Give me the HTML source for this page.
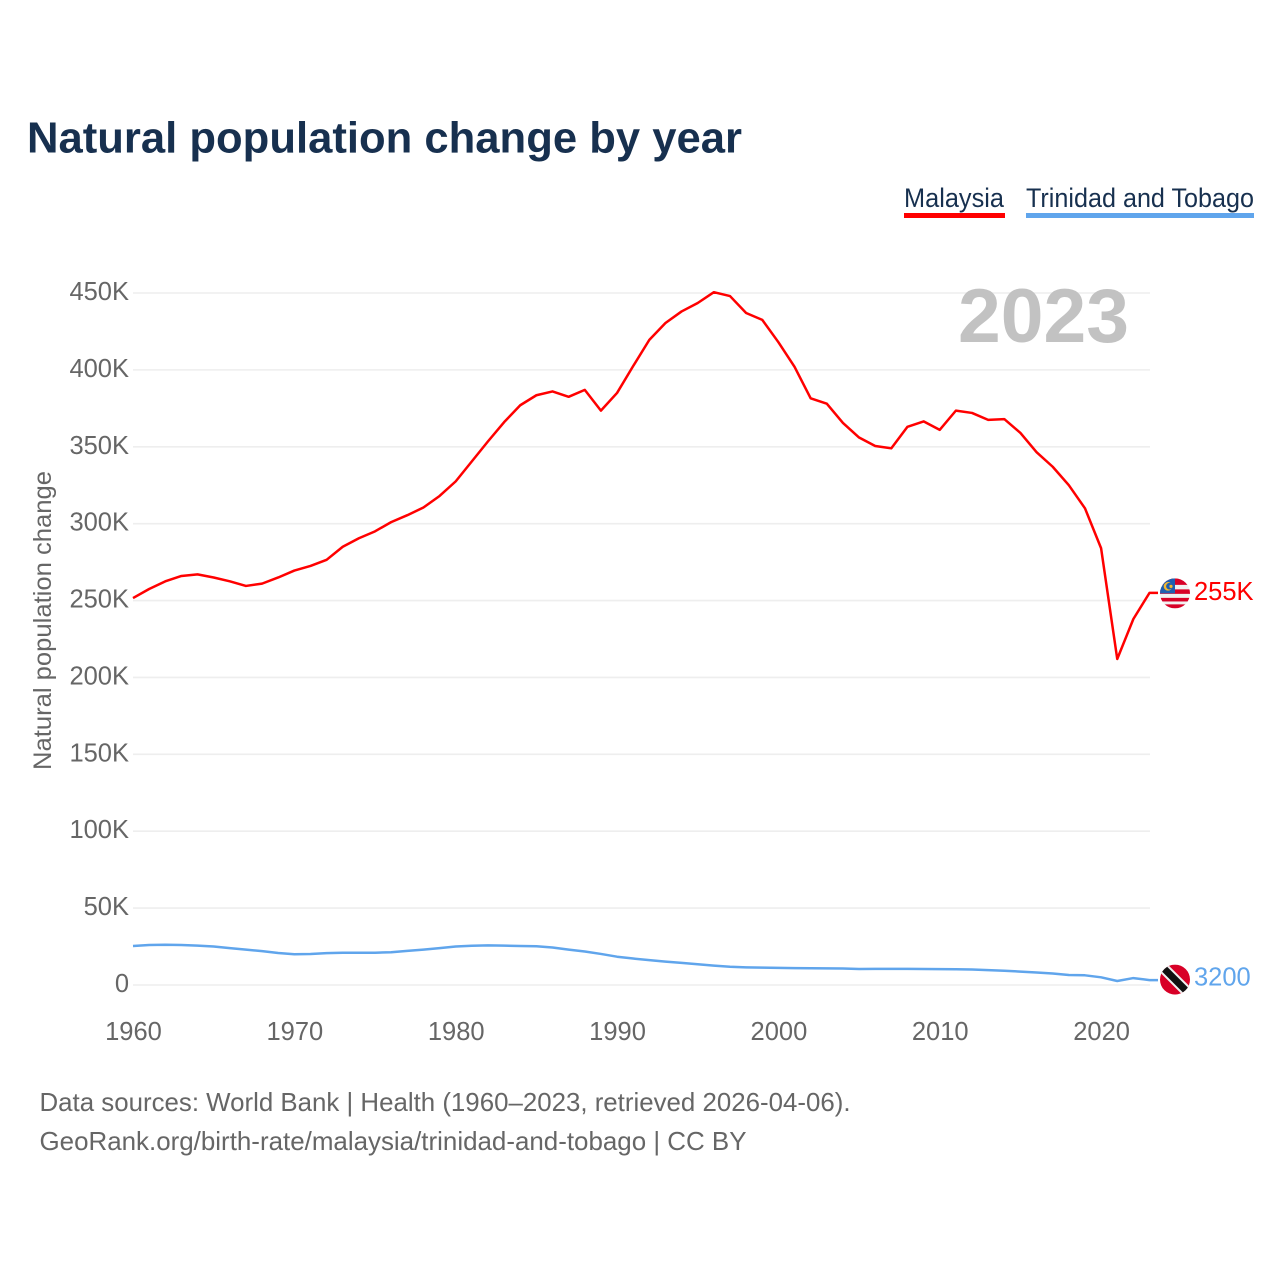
<!DOCTYPE html>
<html lang="en">
<head>
<meta charset="utf-8">
<title>Natural population change by year</title>
<style>
html,body{margin:0;padding:0;background:#fff;}
svg{display:block;font-family:"Liberation Sans",sans-serif;}
</style>
</head>
<body>
<svg id="chart" width="1280" height="1280" viewBox="0 0 1280 1280" xmlns="http://www.w3.org/2000/svg">
  <defs>
    <clipPath id="flag-clip"><circle cx="0" cy="0" r="15"/></clipPath>
  </defs>
  <text x="27" y="152.5" font-size="44" font-weight="700" fill="#17304f" textLength="715" lengthAdjust="spacingAndGlyphs">Natural population change by year</text>

  <g>
    <g>
      <text x="904" y="207" font-size="26.5" fill="#17304f" textLength="100" lengthAdjust="spacingAndGlyphs">Malaysia</text>
      <rect x="904" y="213" width="101" height="5" fill="#ff0000"/>
    </g>
    <g>
      <text x="1026" y="207" font-size="26.5" fill="#17304f" textLength="228" lengthAdjust="spacingAndGlyphs">Trinidad and Tobago</text>
      <rect x="1026" y="213" width="228" height="5" fill="#60a5ec"/>
    </g>
  </g>

  <g id="grid"></g>
  <g id="y-ticks"></g>
  <g id="x-ticks"></g>

  <text x="958" y="342" font-size="76" font-weight="700" fill="#c2c2c2" textLength="171" lengthAdjust="spacingAndGlyphs">2023</text>

  <text transform="translate(51,770) rotate(-90)" x="0" y="0" font-size="25" fill="#666666" textLength="299" lengthAdjust="spacingAndGlyphs">Natural population change</text>

  <g id="series"></g>

  <text x="39.5" y="1111" font-size="26" fill="#666666" textLength="811" lengthAdjust="spacingAndGlyphs">Data sources: World Bank | Health (1960–2023, retrieved 2026-04-06).</text>
  <text x="39.5" y="1150" font-size="26" fill="#666666" textLength="707" lengthAdjust="spacingAndGlyphs">GeoRank.org/birth-rate/malaysia/trinidad-and-tobago | CC BY</text>
</svg>

<script>
const startYear = 1960;
const malaysiaValues = [
  251.6,257.5,262.5,266,267,265,262.5,259.5,261,265,
  269.5,272.5,276.5,285,290.5,295,301,305.5,310.5,318,
  327.5,340.5,353.5,366,377,383.5,386,382.5,387,373.5,
  385,402.5,419.5,430.5,438,443.5,450.5,448,437,432.5,
  418,402,381.5,378,365.5,356,350.5,349,363,366.5,
  361,373.5,372,367.5,368,359,346.5,337,325,310,
  284,212,238,255
];
const trinidadValues = [
  25.4,26,26.2,26,25.6,25,24,23,22,20.8,
  20,20.2,20.7,21,21,21,21.3,22.2,23,24,
  25,25.5,25.8,25.6,25.4,25.2,24.4,23,21.8,20.2,
  18.4,17.2,16.2,15.2,14.4,13.5,12.6,11.9,11.5,11.3,
  11.1,11,10.9,10.8,10.7,10.4,10.5,10.5,10.5,10.4,
  10.3,10.2,10.1,9.7,9.3,8.7,8.1,7.5,6.5,6.3,
  5,2.6,4.5,3.2
];
const yTickValues = [0,50,100,150,200,250,300,350,400,450];
const yTickLabels = ["0","50K","100K","150K","200K","250K","300K","350K","400K","450K"];
const xTickYears = [1960,1970,1980,1990,2000,2010,2020];
const malaysiaLastLabel = "255K";
const trinidadLastLabel = "3200";

const NS = "http://www.w3.org/2000/svg";
function xScale(year){ return 133 + (year - 1960) * 16.135; }
function yScale(v){ return 985 - v * 1.5378; }
function make(tag, attrs, parent){
  const el = document.createElementNS(NS, tag);
  for (const k in attrs) el.setAttribute(k, attrs[k]);
  parent.appendChild(el);
  return el;
}

const gridG = document.getElementById('grid');
const yG = document.getElementById('y-ticks');
yTickValues.forEach(function(v, i){
  const line = make('line', {x1:133, x2:1150, y1:yScale(v), y2:yScale(v), stroke:'#eeeeee', 'stroke-width':1.6}, gridG);
  
  
  const t = make('text', {x:129, y:yScale(v) + 7, 'text-anchor':'end', 'font-size':25.5, fill:'#666666'}, yG);
  
  
  t.textContent = yTickLabels[i];
});

const xG = document.getElementById('x-ticks');
xTickYears.forEach(function(yr){
  const t = make('text', {x:xScale(yr) + 0.5, y:1040, 'text-anchor':'middle', 'font-size':25.5, fill:'#666666'}, xG);
  
  
  t.textContent = String(yr);
});

const seriesG = document.getElementById('series');
function pathFor(values){
  let d = values.map(function(v, i){
    return (i ? 'L' : 'M') + xScale(startYear + i).toFixed(2) + ' ' + yScale(v).toFixed(2);
  }).join(' ');
  const last = yScale(values[values.length - 1]);
  return d + ' L1158 ' + last.toFixed(2);
}

const malaysiaLine = make('path', {d:pathFor(malaysiaValues), fill:'none', stroke:'#ff0000', 'stroke-width':2.5, 'stroke-linejoin':'round'}, seriesG);



const trinidadLine = make('path', {d:pathFor(trinidadValues), fill:'none', stroke:'#60a5ec', 'stroke-width':2.5, 'stroke-linejoin':'round'}, seriesG);



/* Malaysia end flag */
const myY = yScale(malaysiaValues[malaysiaValues.length - 1]);
const myFlag = make('g', {transform:'translate(1175,' + (myY + 0.5) + ')'}, seriesG);


const myClip = make('g', {'clip-path':'url(#flag-clip)'}, myFlag);
make('rect', {x:-15, y:-15, width:30, height:30, fill:'#f1f1f1'}, myClip);
make('rect', {x:-15, y:-15, width:30, height:6.5, fill:'#d80027'}, myClip);
make('rect', {x:-15, y:-4, width:30, height:4.5, fill:'#d80027'}, myClip);
make('rect', {x:-15, y:4.5, width:30, height:3.6, fill:'#d80027'}, myClip);
make('rect', {x:-15, y:11, width:30, height:4, fill:'#d80027'}, myClip);
make('rect', {x:-15, y:-15, width:15, height:15, fill:'#1f5fb0'}, myClip);
make('circle', {cx:-7, cy:-7, r:4.3, fill:'#f5b82e'}, myClip);
make('circle', {cx:-5.6, cy:-7.2, r:3.3, fill:'#1f5fb0'}, myClip);
make('circle', {cx:-4, cy:-7, r:1.6, fill:'#f5b82e'}, myClip);

const myLabel = make('text', {x:1194, y:myY + 7, 'font-size':25.5, fill:'#ff0000'}, seriesG);


myLabel.textContent = malaysiaLastLabel;

/* Trinidad and Tobago end flag */
const ttY = yScale(trinidadValues[trinidadValues.length - 1]);
const ttFlag = make('g', {transform:'translate(1175,' + (ttY - 0.5) + ')'}, seriesG);


const ttClip = make('g', {'clip-path':'url(#flag-clip)'}, ttFlag);
make('rect', {x:-15, y:-15, width:30, height:30, fill:'#d80027'}, ttClip);
make('line', {x1:-15, y1:-15, x2:15, y2:15, stroke:'#f1f1f1', 'stroke-width':11}, ttClip);
make('line', {x1:-15, y1:-15, x2:15, y2:15, stroke:'#111111', 'stroke-width':7}, ttClip);

const ttLabel = make('text', {x:1194, y:ttY + 5.5, 'font-size':25.5, fill:'#60a5ec'}, seriesG);


ttLabel.textContent = trinidadLastLabel;
</script>
</body>
</html>
